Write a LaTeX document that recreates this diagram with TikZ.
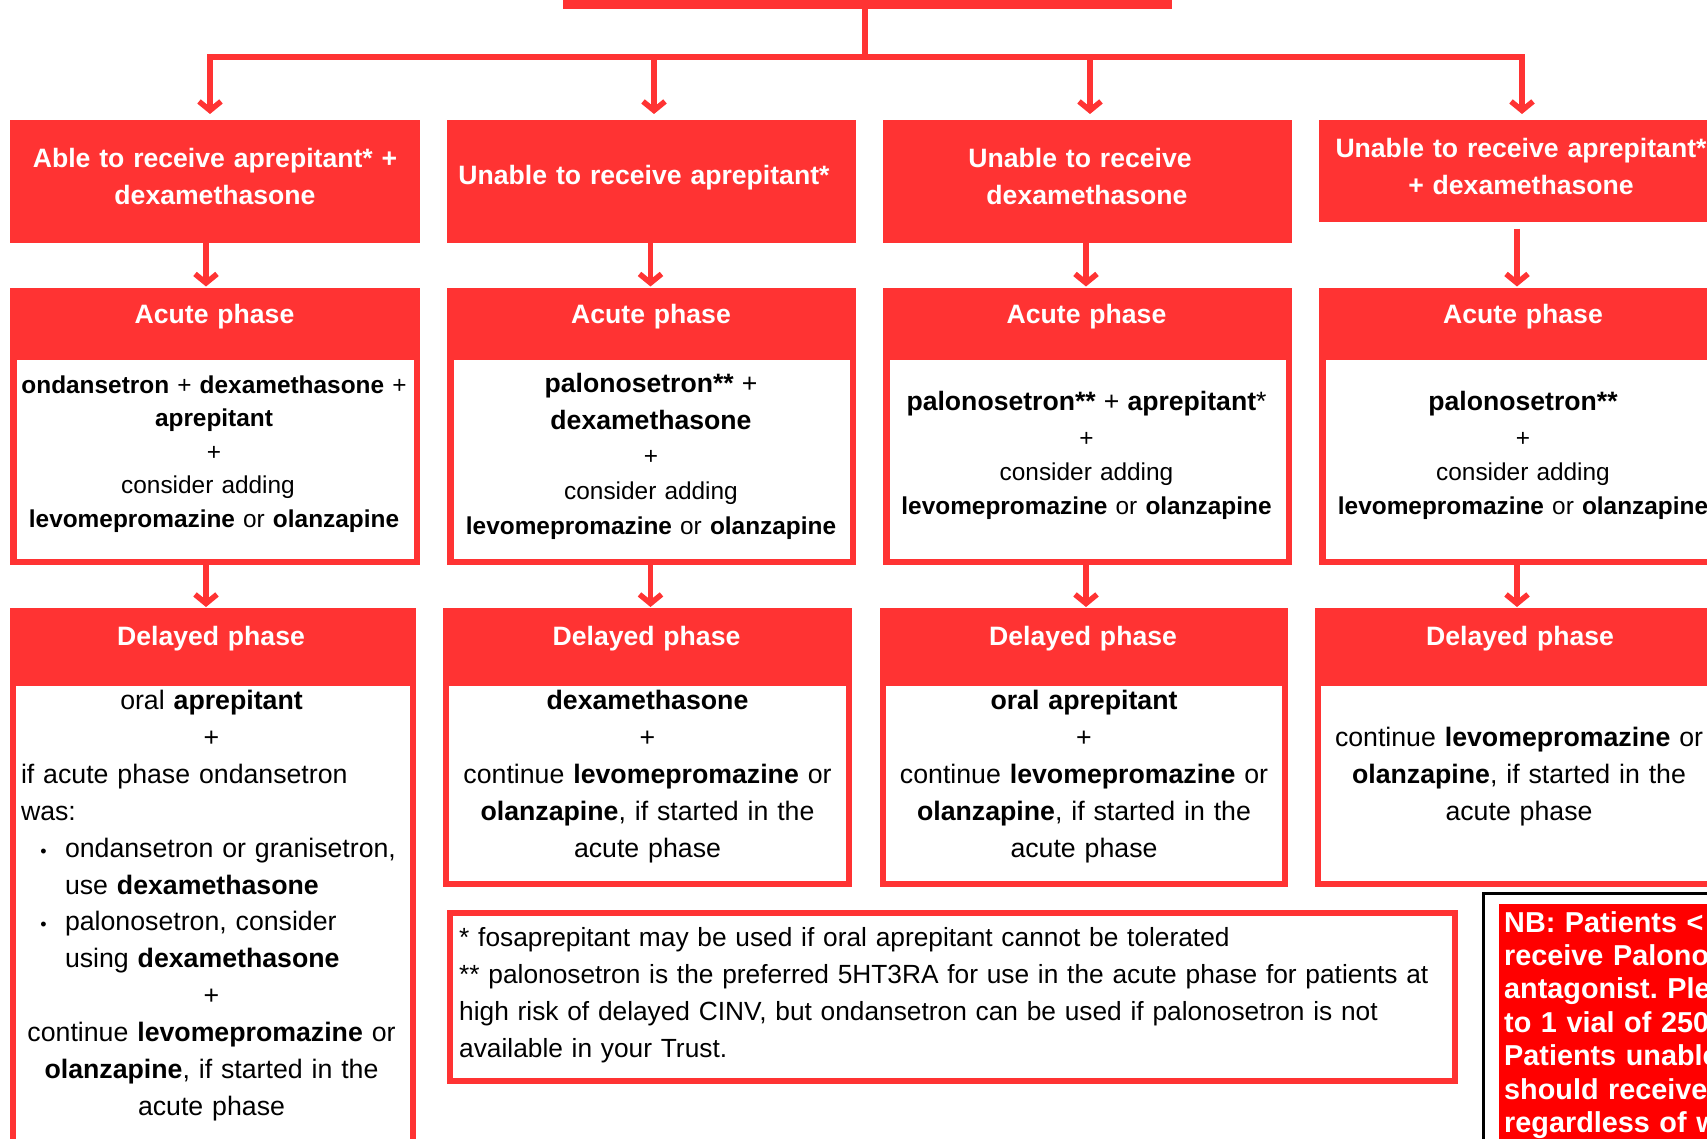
\documentclass[tikz,border=0pt]{standalone}
\usepackage{fontspec}
\setmainfont{Liberation Sans}
\usetikzlibrary{arrows.meta}
\definecolor{cr}{HTML}{FF3333}
\definecolor{nbred}{HTML}{FF0000}
\newcommand\myll[1]{\leavevmode\hbox to\linewidth{#1\hfil}}
\newcommand\mybul{{\fontsize{18}{18}\selectfont\char"2022}}
\frenchspacing
\begin{document}
\begin{tikzpicture}[x=1pt,y=-1pt,
  redbox/.style={fill=cr, draw=none, inner sep=0pt, outer sep=0pt, anchor=north west},
  cbox/.style={draw=cr, fill=white, inner sep=0pt, anchor=north west},
  conn/.style={draw=cr, line width=5.5pt},
  arr/.style={conn, line join=miter, -{Straight Barb[length=9pt,width=22pt]}},
  htext/.style={text=white, font=\bfseries\fontsize{26.6}{37}\selectfont, inner sep=0pt, anchor=base, text width=405pt, align=center},
  ctext/.style={text=black, inner sep=0pt, anchor=base, text width=405pt, align=center},
  dtext/.style={ctext, font=\fontsize{26.7}{36.9}\selectfont},
]
\useasboundingbox (0,0) rectangle (1707,1139);
\clip (0,0) rectangle (1707,1139);
\fill[white] (0,0) rectangle (1707,1139);

% top box
\node[redbox, minimum width=609pt, minimum height=29pt] (top) at (563,-20) {};

% row 1
\node[redbox, minimum width=410pt, minimum height=123pt] (r1c1) at (10,120) {};
\node[redbox, minimum width=409pt, minimum height=123pt] (r1c2) at (447,120) {};
\node[redbox, minimum width=409pt, minimum height=123pt] (r1c3) at (883,120) {};
\node[redbox, minimum width=409pt, minimum height=102pt] (r1c4) at (1319,120) {};

% acute content boxes
\node[cbox, line width=6.5pt, outer sep=3.25pt, minimum width=403.5pt, minimum height=205.5pt] (ac1) at (10,353) {};
\node[cbox, line width=6.5pt, outer sep=3.25pt, minimum width=402.5pt, minimum height=205.5pt] (ac2) at (447,353) {};
\node[cbox, line width=6.5pt, outer sep=3.25pt, minimum width=402.5pt, minimum height=205.5pt] (ac3) at (883,353) {};
\node[cbox, line width=6.5pt, outer sep=3.25pt, minimum width=402.5pt, minimum height=205.5pt] (ac4) at (1319,353) {};

% acute headers
\node[redbox, minimum width=410pt, minimum height=65pt] (ah1) at (10,288) {};
\node[redbox, minimum width=409pt, minimum height=65pt] (ah2) at (447,288) {};
\node[redbox, minimum width=409pt, minimum height=65pt] (ah3) at (883,288) {};
\node[redbox, minimum width=409pt, minimum height=65pt] (ah4) at (1319,288) {};

% delayed content boxes
\node[cbox, line width=6pt, outer sep=3pt, minimum width=400pt, minimum height=520pt] (dc1) at (10,680) {};
\node[cbox, line width=6pt, outer sep=3pt, minimum width=403pt, minimum height=201pt] (dc2) at (443,680) {};
\node[cbox, line width=6pt, outer sep=3pt, minimum width=402pt, minimum height=201pt] (dc3) at (880,680) {};
\node[cbox, line width=6pt, outer sep=3pt, minimum width=403pt, minimum height=201pt] (dc4) at (1315,680) {};

% delayed headers
\node[redbox, minimum width=406pt, minimum height=72pt] (dh1) at (10,608) {};
\node[redbox, minimum width=409pt, minimum height=72pt] (dh2) at (443,608) {};
\node[redbox, minimum width=408pt, minimum height=72pt] (dh3) at (880,608) {};
\node[redbox, minimum width=409pt, minimum height=72pt] (dh4) at (1315,608) {};

% footnote box
\node[cbox, line width=6pt, outer sep=3pt, minimum width=1005pt, minimum height=168pt] (fn) at (447,910) {};

% NB box
\node[draw=black, fill=white, line width=2.5pt, outer sep=1.25pt, inner sep=0pt, anchor=north west, minimum width=400pt, minimum height=400pt] (nbframe) at (1482,892) {};
\node[fill=nbred, draw=none, inner sep=0pt, outer sep=0pt, anchor=north west, minimum width=300pt, minimum height=300pt] (nb) at (1499,904) {};

% connectors
\coordinate (hub) at (865,57);
\coordinate (a1) at (210,0);
\coordinate (a2) at (654,0);
\coordinate (a3) at (1090,0);
\coordinate (a4) at (1522,0);
\coordinate (k1) at (206,0);
\coordinate (k2) at (650.5,0);
\coordinate (k3) at (1086,0);
\coordinate (k4) at (1517,0);
\draw[conn] (top.south -| hub) -- (hub);
\foreach \i in {1,...,4}{\draw[arr, shorten >=6pt] (hub) -| (r1c\i.north -| a\i);}
\foreach \i in {1,2,3}{\draw[arr, shorten >=1.5pt] (r1c\i.south -| k\i) -- (ah\i.north -| k\i);}
\draw[arr, shorten <=7pt, shorten >=1.5pt] (r1c4.south -| k4) -- (ah4.north -| k4);
\foreach \i in {1,...,4}{\draw[arr, shorten >=1pt] (ac\i.south -| k\i) -- (dh\i.north -| k\i);}

% row 1 texts
\node[htext] (tr1) at (215,167.5) {Able to receive aprepitant* +\\dexamethasone};
\node[htext] (tr2) at (644,184.5) {Unable to receive aprepitant*};
\node[htext] (tr3) at (1087,167.5) {\mbox{Unable to receive\kern14pt}\\dexamethasone};
\node[htext] (tr4) at (1521,157.5) {Unable to receive aprepitant*\\+ dexamethasone};

% acute header texts
\node[htext] (ht1) at (214.5,324) {Acute phase};
\node[htext] (ht2) at (651,324) {Acute phase};
\node[htext] (ht3) at (1086.5,324) {Acute phase};
\node[htext] (ht4) at (1523,324) {Acute phase};

% acute contents
\node[ctext, font=\fontsize{24.4}{33.5}\selectfont] (ct1) at (214,393) {\textbf{ondansetron} + \textbf{dexamethasone} +\\\textbf{aprepitant}\\+\\\mbox{consider adding\kern12pt}\\\textbf{levomepromazine} or \textbf{olanzapine}};
\node[ctext, font=\fontsize{24.4}{35}\selectfont] (ct2) at (651,392.5) {{\fontsize{26.6}{35}\selectfont\textbf{palonosetron**} +}\\[2pt]{\fontsize{26.6}{35}\selectfont\textbf{dexamethasone}}\\+\\consider adding\\\textbf{levomepromazine} or \textbf{olanzapine}};
\node[ctext, font=\fontsize{24.4}{34}\selectfont] (ct3) at (1086.5,410.5) {{\fontsize{26.6}{34}\selectfont\textbf{palonosetron**} + \textbf{aprepitant}*}\\[1.5pt]+\\consider adding\\\textbf{levomepromazine} or \textbf{olanzapine}};
\node[ctext, font=\fontsize{24.4}{34}\selectfont] (ct4) at (1523,410.5) {{\fontsize{26.6}{34}\selectfont\textbf{palonosetron**}}\\[1.5pt]+\\consider adding\\\textbf{levomepromazine} or \textbf{olanzapine}};

% delayed header texts
\node[htext] (hd1) at (211,645) {Delayed phase};
\node[htext] (hd2) at (646.5,645) {Delayed phase};
\node[htext] (hd3) at (1083,645) {Delayed phase};
\node[htext] (hd4) at (1520,645) {Delayed phase};

% delayed contents
\node[dtext, text width=381pt] (dt1) at (211.5,709.5) {oral \textbf{aprepitant}\\+\\%
\myll{if acute phase ondansetron}\\%
\myll{was:}\\%
\myll{\makebox[44pt][l]{\hspace*{19.4pt}\mybul}ondansetron or granisetron,}\\%
\myll{\hspace*{44pt}use \textbf{dexamethasone}}\\%
\myll{\makebox[44pt][l]{\hspace*{19.4pt}\mybul}palonosetron, consider}\\%
\myll{\hspace*{44pt}using \textbf{dexamethasone}}\\%
+\\continue \textbf{levomepromazine} or\\\textbf{olanzapine}, if started in the\\acute phase};
\node[dtext] (dt2) at (647.5,709.5) {\textbf{dexamethasone}\\+\\continue \textbf{levomepromazine} or\\\textbf{olanzapine}, if started in the\\acute phase};
\node[dtext] (dt3) at (1084,709.5) {\textbf{oral aprepitant}\\+\\continue \textbf{levomepromazine} or\\\textbf{olanzapine}, if started in the\\acute phase};
\node[dtext] (dt4) at (1519,746.5) {continue \textbf{levomepromazine} or\\\textbf{olanzapine}, if started in the\\acute phase};

% footnote
\node[text=black, inner sep=0pt, anchor=base west, text width=1000pt, align=left, font=\fontsize{26.3}{37}\selectfont] (fnt) at (459,946) {* fosaprepitant may be used if oral aprepitant cannot be tolerated\\{}** palonosetron is the preferred 5HT3RA for use in the acute phase for patients at\\high risk of delayed CINV, but ondansetron can be used if palonosetron is not\\available in your Trust.};

% NB text
\node[text=white, inner sep=0pt, anchor=base west, text width=400pt, align=left, font=\bfseries\fontsize{28.8}{33.4}\selectfont] (nbt) at (1504,932) {NB: Patients <\\receive Palono\\antagonist. Ple\\to 1 vial of 250\\Patients unable\\should receive\\regardless of w};
\end{tikzpicture}
\end{document}
